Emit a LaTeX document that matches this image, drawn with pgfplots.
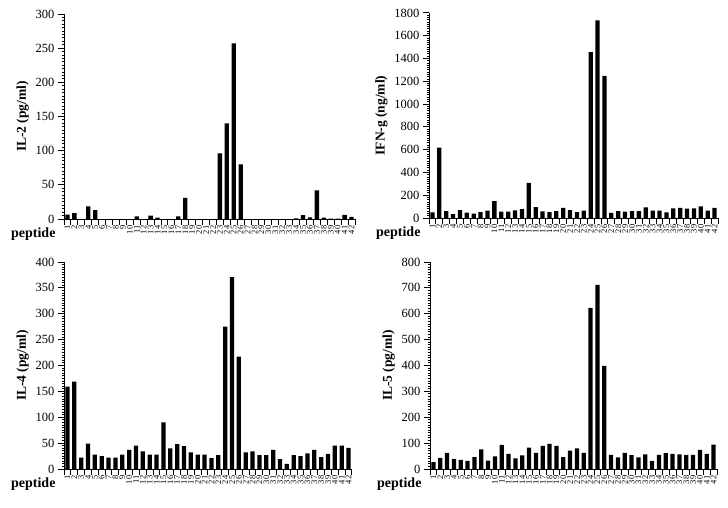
\documentclass[border=0pt]{standalone}
\usepackage{pgfplots}
\pgfplotsset{compat=1.18}
\usepackage{fontspec}
\setmainfont{Liberation Serif}

\pgfplotsset{
  every tick/.style={draw=black, line width=1pt},
  panel/.style={
    scale only axis, clip mode=individual,
    axis lines=left,
    axis line style={-, line width=1pt},
    xmin=0.5, xmax=42.5, ymin=0,
    ybar, bar width=0.62,
    xtick={0.5,1.5,...,42.5},
    xticklabels={1,2,3,4,5,6,7,8,9,10,11,12,13,14,15,16,17,18,19,20,21,22,23,24,25,26,27,28,29,30,31,32,33,34,35,36,37,38,39,40,41,42,{}},
    xticklabel style={font=\fontsize{8.5}{8.5}\selectfont, xshift=3.44pt, rotate=90, anchor=east, inner sep=0.5pt},
    yticklabel style={font=\fontsize{12.5}{12.5}\selectfont},
    ylabel style={font=\bfseries\fontsize{13.5}{13.5}\selectfont},
    tick align=outside,
    major tick length=6pt, minor tick length=2.5pt,
    minor y tick num=9,
    /pgf/number format/assume math mode=true,
    /pgf/number format/1000 sep={},
  }
}

\newcommand{\pep}{\node[anchor=base east, font=\bfseries\fontsize{14}{14}\selectfont, xshift=-5pt, yshift=-18pt] at (rel axis cs:0,0) {peptide};}

\begin{document}
\begin{tikzpicture}
\path (0,0) rectangle (728pt,-508pt);

% IL-2
\begin{axis}[panel, at={(64pt,-219pt)}, anchor=south west, width=291pt, height=205pt,
  ymax=300, ytick={0,50,...,300}, ylabel={IL-2 (pg/ml)}]
\addplot[fill=black, draw=none] coordinates {(1,6.5) (2,8.5) (3,0) (4,18.5) (5,13) (6,0) (7,0) (8,0) (9,0) (10,0)
 (11,4) (12,0) (13,5) (14,2) (15,0) (16,0) (17,4) (18,31) (19,0) (20,0)
 (21,0) (22,0) (23,96) (24,140) (25,257) (26,80) (27,0) (28,0) (29,0) (30,0)
 (31,0) (32,0) (33,0) (34,1) (35,5.5) (36,2.5) (37,42) (38,2) (39,0.5) (40,0.5)
 (41,6) (42,3)};
\pep
\end{axis}

% IFN-g
\begin{axis}[panel, at={(429pt,-218pt)}, anchor=south west, width=289pt, height=205pt,
  ymax=1800, ytick={0,200,...,1800}, ylabel={IFN-g (ng/ml)}]
\addplot[fill=black, draw=none] coordinates {(1,50) (2,618) (3,61) (4,35) (5,70) (6,47) (7,38) (8,52) (9,64) (10,149)
 (11,55) (12,55) (13,67) (14,79) (15,309) (16,96) (17,58) (18,52) (19,61) (20,90)
 (21,70) (22,52) (23,64) (24,1456) (25,1736) (26,1249) (27,44) (28,61) (29,55) (30,61)
 (31,61) (32,93) (33,64) (34,64) (35,50) (36,85) (37,90) (38,82) (39,85) (40,102)
 (41,64) (42,88)};
\pep
\end{axis}

% IL-4
\begin{axis}[panel, at={(64pt,-469pt)}, anchor=south west, width=288pt, height=207pt,
  ymax=400, ytick={0,50,...,400}, ylabel={IL-4 (pg/ml)}]
\addplot[fill=black, draw=none] coordinates {(1,159) (2,169) (3,22) (4,49) (5,28) (6,25) (7,22) (8,22) (9,28) (10,37)
 (11,45) (12,34) (13,28) (14,28) (15,90) (16,40) (17,48) (18,44) (19,32) (20,28)
 (21,28) (22,21) (23,27) (24,275) (25,371) (26,217) (27,32) (28,34) (29,27) (30,27)
 (31,37) (32,19) (33,10) (34,27) (35,25) (36,30) (37,37) (38,23) (39,29) (40,45)
 (41,45) (42,41)};
\pep
\end{axis}

% IL-5
\begin{axis}[panel, at={(430pt,-469pt)}, anchor=south west, width=287pt, height=207pt,
  ymax=800, ytick={0,100,...,800}, ylabel={IL-5 (pg/ml)}]
\addplot[fill=black, draw=none] coordinates {(1,27) (2,43) (3,62) (4,39) (5,35) (6,31) (7,46) (8,76) (9,32) (10,49)
 (11,93) (12,58) (13,41) (14,53) (15,83) (16,62) (17,89) (18,97) (19,89) (20,46)
 (21,71) (22,80) (23,62) (24,623) (25,712) (26,399) (27,55) (28,45) (29,62) (30,54)
 (31,45) (32,57) (33,31) (34,55) (35,61) (36,58) (37,57) (38,55) (39,55) (40,74)
 (41,58) (42,94)};
\pep
\end{axis}
\end{tikzpicture}
\end{document}
